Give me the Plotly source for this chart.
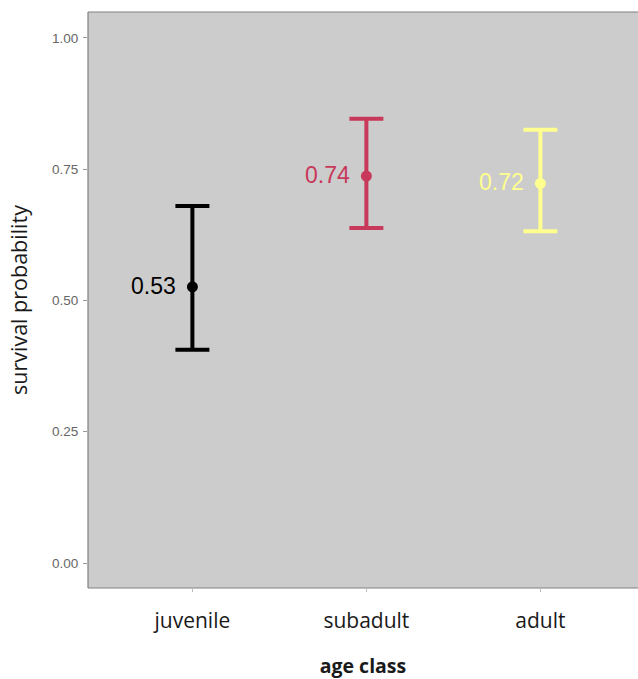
import plotly.graph_objects as go

# survival estimates with confidence bounds per age class
age_classes = ["juvenile", "subadult", "adult"]
survival = [0.526, 0.737, 0.723]
upper_ci = [0.680, 0.846, 0.825]
lower_ci = [0.406, 0.638, 0.632]
label_text = ["0.53", "0.74", "0.72"]
colors = ["#000000", "#C8385A", "#FFFF8F"]

y_ticks = [0.0, 0.25, 0.5, 0.75, 1.0]
y_tick_text = ["0.00", "0.25", "0.50", "0.75", "1.00"]

fig = go.Figure()

for i, name in enumerate(age_classes):
    fig.add_trace(go.Scatter(
        x=[i],
        y=[survival[i]],
        mode="markers",
        marker=dict(color=colors[i], size=11),
        error_y=dict(
            type="data",
            symmetric=False,
            array=[upper_ci[i] - survival[i]],
            arrayminus=[survival[i] - lower_ci[i]],
            color=colors[i],
            thickness=4,
            width=17,
        ),
        showlegend=False,
        hoverinfo="skip",
    ))
    fig.add_annotation(
        x=i, y=survival[i], xref="x", yref="y",
        text=label_text[i], showarrow=False,
        xanchor="right", yanchor="middle", xshift=-14, yshift=1,
        font=dict(family="Liberation Sans, Arial", size=23, color=colors[i]),
    )

# panel frame: left, bottom and top edges
frame = dict(color="#808080", width=1.2)
fig.add_shape(type="line", xref="paper", yref="paper", x0=0, x1=0, y0=0, y1=1, line=frame)
fig.add_shape(type="line", xref="paper", yref="paper", x0=0, x1=1, y0=0, y1=0, line=frame)
fig.add_shape(type="line", xref="paper", yref="paper", x0=0, x1=1, y0=1, y1=1, line=frame)

label_font = "Open Sans, sans-serif"

fig.update_layout(
    width=638,
    height=679,
    margin=dict(l=88, r=0, t=12, b=91),
    paper_bgcolor="white",
    plot_bgcolor="#CCCCCC",
    xaxis=dict(
        range=[-0.6, 2.561],
        tickmode="array",
        tickvals=[0, 1, 2],
        ticktext=age_classes,
        ticks="outside",
        ticklen=3,
        tickcolor="#BBBBBB",
        ticklabelstandoff=11,
        tickfont=dict(family=label_font, size=21, color="#1A1A1A"),
        showgrid=False,
        zeroline=False,
        title=dict(
            text="<b>age class</b>",
            font=dict(family=label_font, size=19.5, color="#1A1A1A"),
            standoff=27,
        ),
        fixedrange=True,
    ),
    yaxis=dict(
        range=[-0.0476, 1.0495],
        tickmode="array",
        tickvals=y_ticks,
        ticktext=y_tick_text,
        ticks="outside",
        ticklen=4,
        tickcolor="#999999",
        ticklabelstandoff=2,
        tickfont=dict(family="Liberation Sans, Arial", size=13.5, color="#666666"),
        showgrid=False,
        zeroline=False,
        title=dict(
            text="survival probability",
            font=dict(family=label_font, size=21.5, color="#1A1A1A"),
            standoff=18,
        ),
        fixedrange=True,
    ),
)

fig.write_html("out.html")
